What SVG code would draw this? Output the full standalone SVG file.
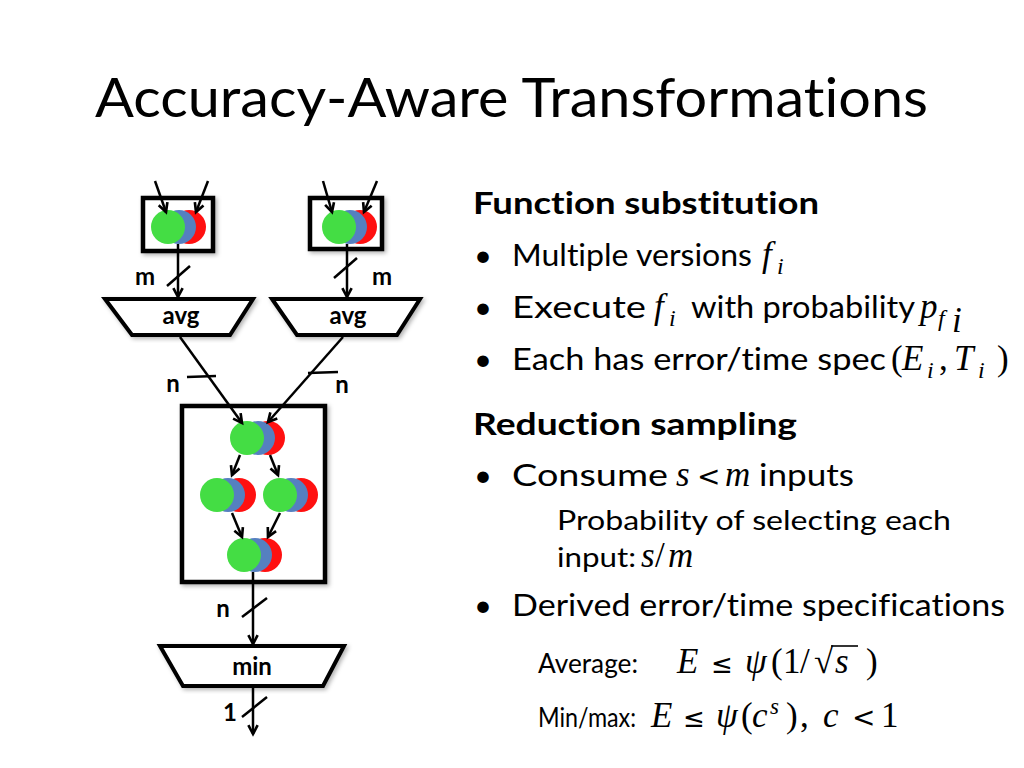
<svg xmlns="http://www.w3.org/2000/svg" width="1024" height="768" viewBox="0 0 1024 768">
<defs>
<style>
text{font-variant-ligatures:none}
.box{fill:#fff;stroke:#000;stroke-width:4.5}
.trap{fill:#fff;stroke:#000;stroke-width:4;stroke-linejoin:miter}
.ln{fill:none;stroke:#000;stroke-width:2.5}
.arr{fill:none;stroke:#000;stroke-width:2.5;marker-end:url(#ah)}
.lbl{font-family:Lato,"Open Sans",sans-serif;font-weight:bold;font-size:24px;fill:#000}
.g{fill:#44DD44}.b{fill:#5580C0}.r{fill:#FF1010}
.title{font-family:Lato,"Open Sans",sans-serif;font-size:54px;fill:#000}
.h{font-family:Lato,"Open Sans",sans-serif;font-weight:bold;font-size:31px;fill:#000}
.t{font-family:Lato,"Open Sans",sans-serif;font-size:31px;fill:#000}
.s{font-family:Lato,"Open Sans",sans-serif;font-size:27px;fill:#000}
.m{font-family:"Liberation Serif","DejaVu Serif",serif;font-size:35px;fill:#000}
.op{font-family:"DejaVu Sans",sans-serif;font-style:normal}
.mi{font-style:italic}
.sub{font-size:24px}
</style>
<marker id="ah" viewBox="0 0 10 10" refX="9" refY="5" markerWidth="4.4" markerHeight="4.4" orient="auto" overflow="visible">
<path d="M1,0.8 L9,5 L1,9.2" fill="none" stroke="#000" stroke-width="2.4"/>
</marker>
<filter id="sh" x="-20%" y="-20%" width="140%" height="140%">
<feDropShadow dx="2" dy="2" stdDeviation="2" flood-color="#000" flood-opacity="0.3"/>
</filter>
</defs>
<rect width="1024" height="768" fill="#fff"/>

<text class="title" x="95" y="117" textLength="833" lengthAdjust="spacingAndGlyphs">Accuracy-Aware Transformations</text>

<g id="input-box-1">
<rect class="box" x="143" y="198" width="70" height="53" filter="url(#sh)"/>
<circle class="r" cx="189" cy="227" r="17"/>
<circle class="b" cx="179" cy="227" r="17"/>
<circle class="g" cx="168" cy="227" r="17"/>
</g>
<g id="input-box-2">
<rect class="box" x="310" y="198" width="72" height="51" filter="url(#sh)"/>
<circle class="r" cx="360" cy="227" r="17"/>
<circle class="b" cx="350" cy="227" r="17"/>
<circle class="g" cx="339" cy="227" r="17"/>
</g>
<g id="avg-1">
<polygon class="trap" points="105,299 253,299 230,335 132,335" filter="url(#sh)"/>
<text class="lbl" x="181" y="324" text-anchor="middle">avg</text>
</g>
<g id="avg-2">
<polygon class="trap" points="272,299 420,299 397,335 297,335" filter="url(#sh)"/>
<text class="lbl" x="348" y="324" text-anchor="middle">avg</text>
</g>
<g id="main-box">
<rect class="box" x="182" y="406" width="143" height="176" filter="url(#sh)"/>
<circle class="r" cx="268" cy="438" r="17"/>
<circle class="b" cx="258" cy="438" r="17"/>
<circle class="g" cx="247" cy="438" r="17"/>
<circle class="r" cx="239" cy="495" r="17"/>
<circle class="b" cx="228" cy="495" r="17"/>
<circle class="g" cx="217" cy="495" r="17"/>
<circle class="r" cx="301" cy="495" r="17"/>
<circle class="b" cx="291" cy="495" r="17"/>
<circle class="g" cx="280" cy="495" r="17"/>
<circle class="r" cx="265" cy="555" r="17"/>
<circle class="b" cx="255" cy="555" r="17"/>
<circle class="g" cx="244" cy="555" r="17"/>
</g>
<g id="min">
<polygon class="trap" points="160,646 344,646 323,686 183,686" filter="url(#sh)"/>
<text class="lbl" x="252" y="675" text-anchor="middle">min</text>
</g>

<g id="connectors">
<line class="arr" x1="155" y1="181" x2="166" y2="212"/>
<line class="arr" x1="208" y1="181" x2="196" y2="212"/>
<line class="arr" x1="323" y1="181" x2="332" y2="212"/>
<line class="arr" x1="377" y1="181" x2="364" y2="212"/>
<line class="arr" x1="178" y1="244" x2="178" y2="297"/>
<line class="ln" x1="167" y1="286" x2="190" y2="266"/>
<line class="arr" x1="347" y1="244" x2="347" y2="297"/>
<line class="ln" x1="334" y1="278" x2="357" y2="258"/>
<line class="arr" x1="180" y1="337" x2="242" y2="423"/>
<line class="ln" x1="187" y1="377" x2="216" y2="376"/>
<line class="arr" x1="343" y1="337" x2="268" y2="422"/>
<line class="ln" x1="308" y1="373" x2="338" y2="372"/>
<line class="arr" x1="240" y1="455" x2="232" y2="475"/>
<line class="arr" x1="270" y1="455" x2="278" y2="475"/>
<line class="arr" x1="232" y1="513" x2="242" y2="537"/>
<line class="arr" x1="280" y1="513" x2="268" y2="537"/>
<line class="arr" x1="253" y1="572" x2="253" y2="644"/>
<line class="ln" x1="242" y1="617" x2="267" y2="598"/>
<line class="arr" x1="253" y1="688" x2="253" y2="734"/>
<line class="ln" x1="242" y1="717" x2="267" y2="697"/>
<text class="lbl" x="145" y="285" text-anchor="middle">m</text>
<text class="lbl" x="382" y="285" text-anchor="middle">m</text>
<text class="lbl" x="173" y="392" text-anchor="middle">n</text>
<text class="lbl" x="342" y="393" text-anchor="middle">n</text>
<text class="lbl" x="223" y="617" text-anchor="middle">n</text>
<text class="lbl" x="230" y="721" text-anchor="middle" font-size="26">1</text>
</g>

<g id="text-panel">
<text class="h" x="473" y="214" textLength="346" lengthAdjust="spacingAndGlyphs">Function substitution</text>
<text class="t" x="474" y="266">•</text>
<text class="t" x="512" y="266" textLength="240" lengthAdjust="spacingAndGlyphs">Multiple versions</text>
<text class="m mi" x="762" y="266">f</text><text class="m mi sub" x="777" y="274">i</text>

<text class="t" x="474" y="318">•</text>
<text class="t" x="512" y="318" textLength="134" lengthAdjust="spacingAndGlyphs">Execute</text>
<text class="m mi" x="654" y="318">f</text><text class="m mi sub" x="669" y="326">i</text>
<text class="t" x="691" y="318" textLength="224" lengthAdjust="spacingAndGlyphs">with probability</text>
<text class="m mi" x="920" y="318">p</text><text class="m mi sub" x="938" y="326">f</text><text class="m mi" x="952" y="332" font-size="18">i</text>

<text class="t" x="474" y="370">•</text>
<text class="t" x="512" y="370" textLength="374" lengthAdjust="spacingAndGlyphs">Each has error/time spec</text>
<text class="m" y="370"><tspan x="891">(</tspan><tspan class="mi" x="902">E</tspan><tspan class="mi sub" x="927" dy="8">i</tspan><tspan x="939" dy="-8">,</tspan><tspan class="mi" x="954">T</tspan><tspan class="mi sub" x="978" dy="8">i</tspan><tspan x="997" dy="-8">)</tspan></text>

<text class="h" x="473" y="435" textLength="324" lengthAdjust="spacingAndGlyphs">Reduction sampling</text>
<text class="t" x="474" y="486">•</text>
<text class="t" x="512" y="486" textLength="156" lengthAdjust="spacingAndGlyphs">Consume</text>
<text class="m" y="486"><tspan class="mi" x="676">s</tspan><tspan class="op" x="697" font-size="28">&lt;</tspan><tspan class="mi" x="725">m</tspan></text>
<text class="t" x="759" y="486" textLength="95" lengthAdjust="spacingAndGlyphs">inputs</text>
<text class="s" x="557" y="530" textLength="394" lengthAdjust="spacingAndGlyphs">Probability of selecting each</text>
<text class="s" x="557" y="567" textLength="79" lengthAdjust="spacingAndGlyphs">input:</text>
<text class="m" y="567" font-size="30"><tspan class="mi" x="641">s</tspan><tspan x="655">/</tspan><tspan class="mi" x="668">m</tspan></text>

<text class="t" x="474" y="616">•</text>
<text class="t" x="512" y="616" textLength="493" lengthAdjust="spacingAndGlyphs">Derived error/time specifications</text>

<text class="s" x="538" y="673" textLength="100" lengthAdjust="spacingAndGlyphs">Average:</text>
<text class="m" y="673" font-size="33"><tspan class="mi" x="677">E</tspan><tspan class="op" x="711" font-size="26">≤</tspan><tspan class="mi" x="745">ψ</tspan><tspan x="771">(</tspan><tspan x="783">1</tspan><tspan x="800">/</tspan><tspan x="814">√</tspan><tspan class="mi" x="835">s</tspan><tspan x="866">)</tspan></text>
<line x1="831" y1="646" x2="858" y2="646" stroke="#000" stroke-width="1.6"/>

<text class="s" x="538" y="727" textLength="98" lengthAdjust="spacingAndGlyphs">Min/max:</text>
<text class="m" y="727" font-size="33"><tspan class="mi" x="651">E</tspan><tspan class="op" x="683" font-size="26">≤</tspan><tspan class="mi" x="716">ψ</tspan><tspan x="741">(</tspan><tspan class="mi" x="752">c</tspan><tspan class="mi" x="770" dy="-13" font-size="23">s</tspan><tspan x="786" dy="13">)</tspan><tspan x="800">,</tspan><tspan class="mi" x="823">c</tspan><tspan class="op" x="852" font-size="28">&lt;</tspan><tspan x="881">1</tspan></text>
</g>
</svg>
